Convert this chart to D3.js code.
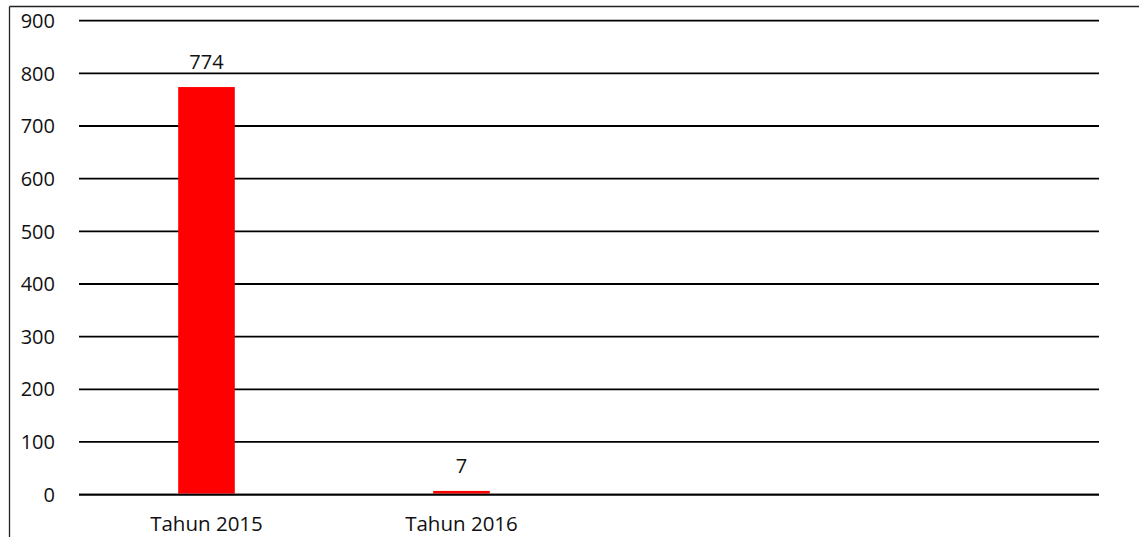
<!DOCTYPE html>
<html><head><meta charset="utf-8">
<script src="https://cdn.jsdelivr.net/npm/d3@7"></script>
<style>body{margin:0;background:#fff}svg{display:block}</style>
</head><body>
<svg id="c" width="1139" height="537"></svg>
<script>
const categories = ["Tahun 2015", "Tahun 2016", "", ""];
const values = [774, 7, null, null];
const yTicks = [0, 100, 200, 300, 400, 500, 600, 700, 800, 900];

const svg = d3.select("#c");
const font = "'Open Sans', sans-serif";
const m = {left: 79, right: 1099, top: 20.7, bottom: 494.6};

const x = d3.scaleBand().domain(d3.range(categories.length)).range([m.left, m.right]).paddingInner(0.778).paddingOuter(0.389);
const y = d3.scaleLinear().domain([0, 900]).range([m.bottom, m.top]);

// border
svg.append("line").attr("x1", 9.5).attr("x2", 1139).attr("y1", 6.5).attr("y2", 6.5).attr("stroke", "#222").attr("stroke-width", 1.3);
svg.append("line").attr("x1", 9.5).attr("x2", 9.5).attr("y1", 6.5).attr("y2", 537).attr("stroke", "#222").attr("stroke-width", 1.3);

// gridlines
svg.append("g").selectAll("line").data(yTicks).join("line")
  .attr("x1", m.left).attr("x2", m.right)
  .attr("y1", d => y(d)).attr("y2", d => y(d))
  .attr("stroke", "#000").attr("stroke-width", 1.8);

// y labels
svg.append("g").selectAll("text").data(yTicks).join("text")
  .attr("x", 55).attr("y", d => y(d)).attr("dy", "0.36em")
  .attr("text-anchor", "end").attr("font-family", font).attr("font-size", 20).attr("fill", "#111")
  .text(d => d);

const data = values.map((v, i) => ({i, v})).filter(d => d.v != null);
// bars
svg.append("g").selectAll("rect").data(data).join("rect")
  .attr("x", d => x(d.i)).attr("width", x.bandwidth())
  .attr("y", d => y(d.v)).attr("height", d => y(0) - y(d.v) - 1)
  .attr("fill", "#ff0000");

// redraw zero line on top
svg.append("line").attr("x1", m.left).attr("x2", m.right).attr("y1", y(0)).attr("y2", y(0)).attr("stroke", "#000").attr("stroke-width", 1.8);

// data labels
svg.append("g").selectAll("text").data(data).join("text")
  .attr("x", d => x(d.i) + x.bandwidth() / 2).attr("y", d => y(d.v) - 17.7)
  .attr("text-anchor", "middle").attr("font-family", font).attr("font-size", 20).attr("fill", "#111")
  .text(d => d.v);

// category labels
svg.append("g").selectAll("text").data(categories.map((c, i) => ({c, i}))).join("text")
  .attr("x", d => x(d.i) + x.bandwidth() / 2).attr("y", 530.5)
  .attr("text-anchor", "middle").attr("font-family", font).attr("font-size", 20.5).attr("fill", "#111")
  .text(d => d.c);
</script>
</body></html>
